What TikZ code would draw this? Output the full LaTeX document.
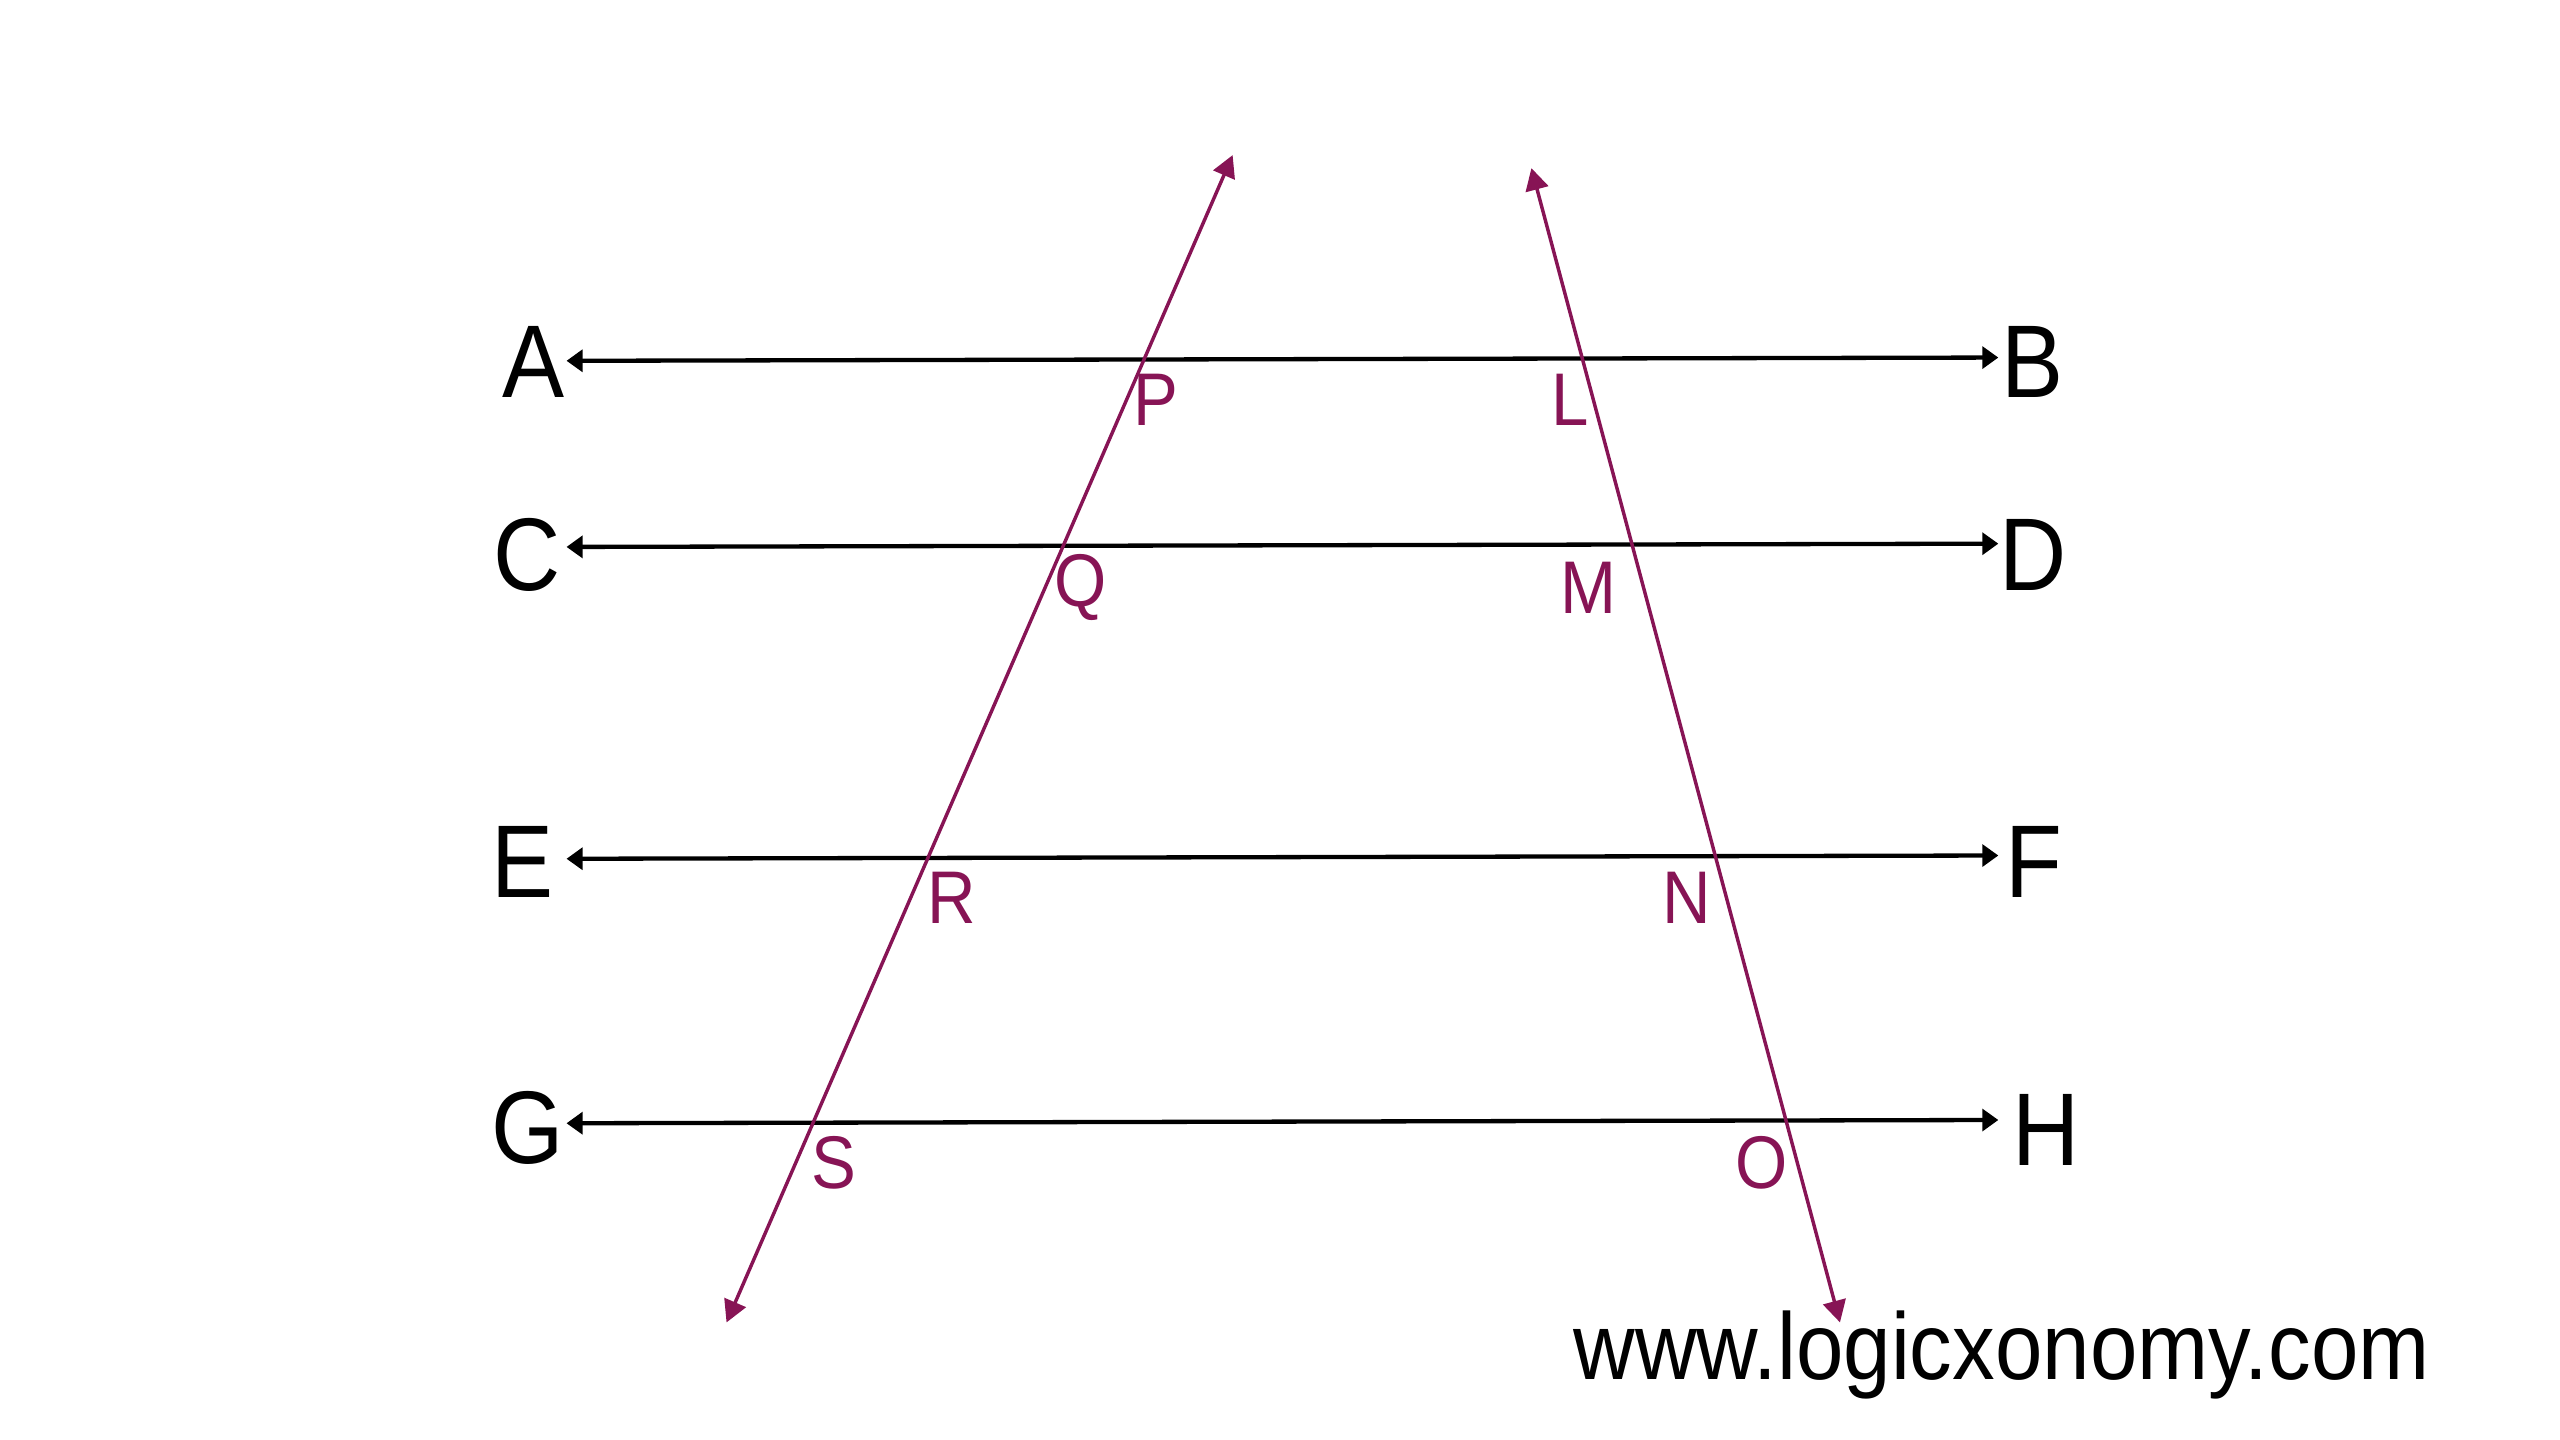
\documentclass[tikz,border=0pt]{standalone}
\usepackage{fontspec}
\setmainfont[FakeStretch=0.9]{Liberation Sans}
\usepackage{xcolor}
\usetikzlibrary{positioning,calc,arrows.meta}
\definecolor{plum}{RGB}{135,20,85}
\tikzset{
  parline/.style={line width=0.75pt, {Triangle[length=2.8pt,width=3.8pt]}-{Triangle[length=2.8pt,width=3.8pt]}},
  cutline/.style={plum, line width=0.6pt, {Triangle[length=3.8pt,width=4pt]}-{Triangle[length=3.8pt,width=4pt]}},
  endlbl/.style={inner sep=0pt, font=\fontsize{18}{20}\selectfont},
  cutlbl/.style={plum, inner sep=0pt, font=\fontsize{13}{15}\selectfont}
}

\begin{document}
\begin{tikzpicture}[x=0.01cm, y=-0.01cm]
	\useasboundingbox (0,0) rectangle (1568,882);
	% end points of the parallel lines
	\coordinate (a) at (347,221);
	\coordinate (b) at (1224,219);
	\coordinate (c) at (347,335);
	\coordinate (d) at (1224,333);
	\coordinate (e) at (347,526);
	\coordinate (f) at (1224,524);
	\coordinate (g) at (347,688);
	\coordinate (h) at (1224,686);
	% end points of the two transversals
	\coordinate (t1) at (445,810);
	\coordinate (t2) at (755,95);
	\coordinate (u1) at (938,103);
	\coordinate (u2) at (1127,810);

	\node[endlbl] (A) at (327,222) {A};
	\node[endlbl] (B) at (1245,222) {B};
	\node[endlbl] (C) at (323,340) {C};
	\node[endlbl] (D) at (1245,340) {D};
	\node[endlbl] (E) at (320,528) {E};
	\node[endlbl] (F) at (1246,528) {F};
	\node[endlbl] (G) at (323,691) {G};
	\node[endlbl] (H) at (1253,692) {H};

	\draw[parline] (a) -- (b);
	\draw[parline] (c) -- (d);
	\draw[parline] (e) -- (f);
	\draw[parline] (g) -- (h);

	\draw[cutline] (t1) -- (t2);
	\draw[cutline] (u1) -- (u2);

	\node[cutlbl] (P) at (708,245) {P};
	\node[cutlbl] (L) at (962,245) {L};
	\node[cutlbl] (Q) at (662,360) {Q};
	\node[cutlbl] (M) at (973,360) {M};
	\node[cutlbl] (R) at (583,550) {R};
	\node[cutlbl] (N) at (1033,550) {N};
	\node[cutlbl] (S) at (511,712) {S};
	\node[cutlbl] (O) at (1079,712) {O};

	\node[inner sep=0pt, anchor=base, font=\fontsize{16.5}{19}\selectfont] (web) at (1226,845) {www.logicxonomy.com};
\end{tikzpicture}
\end{document}
